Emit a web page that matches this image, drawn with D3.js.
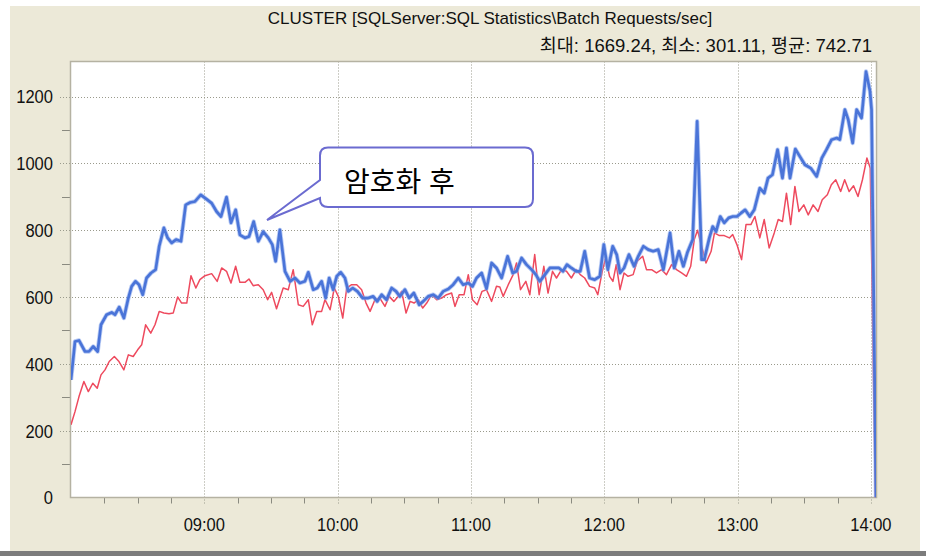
<!DOCTYPE html>
<html>
<head>
<meta charset="utf-8">
<script src="https://cdn.jsdelivr.net/npm/d3@7"></script>
<style>
  body { margin: 0; background: #fff; }
  text { font-family: "Liberation Sans Narrow", "Liberation Sans", "Noto Sans CJK KR", sans-serif; }
</style>
</head>
<body>
<svg id="chart" width="926" height="556"></svg>
<script>
// 시간은 08:00 부터의 분 단위
const blueMin = [0, 1.8, 3.6, 6.3, 8.1, 10, 12, 13.5, 16, 18.3, 19.8, 21.7, 23.8, 25.8, 27.3, 29, 30.6, 32.3, 34, 36, 38.1, 39.7, 41.8, 43.5, 45.3, 47.3, 49.5, 51.6, 53.6, 55.8, 58.4, 61, 63.3, 65.5, 67.5, 70, 72, 74.1, 76, 78.3, 80.1, 82.2, 84.3, 86.5, 88.8, 90.6, 92.1, 94, 96.3, 98.6, 100.8, 103, 105.3, 106.8, 109, 110.8, 112.8, 114.6, 116.2, 118, 119.6, 121.4, 123.3, 124.8, 126.8, 128.9, 131.3, 133.8, 136, 137.8, 139.8, 142, 144.3, 146.3, 148, 150.3, 152.2, 154.3, 156.7, 158.5, 160.8, 163, 165.3, 167.5, 169.8, 172, 174.3, 176.5, 178.8, 180.7, 182.5, 184.8, 187, 189.3, 191.5, 193.8, 196.5, 198.8, 200.5, 202.8, 205, 207.3, 209.2, 211, 213.3, 215.5, 217.8, 219.6, 221.4, 223.2, 225.2, 227.4, 229.2, 231.2, 233.4, 235.7, 238, 239.8, 241.6, 243.8, 245.6, 247.1, 248.9, 251.1, 253.4, 255.3, 257.6, 259.8, 262, 264.3, 266.6, 269.6, 271.5, 273.6, 275.6, 277.5, 279.8, 281.8, 283.8, 285, 287.3, 288.8, 290.3, 292.2, 294, 296, 297.8, 299.7, 301.5, 303.4, 305.5, 307.5, 310, 312, 313.7, 315.7, 318, 320.2, 322, 323.6, 326, 328, 330.3, 332.9, 335.6, 337.9, 340, 342.3, 344.6, 346, 348.3, 349.8, 351.8, 353.6, 355.8, 357.8, 359.6, 360.3, 362.3];
const blueVal = [352, 467, 470, 437, 437, 452, 437, 517, 547, 554, 547, 570, 537, 597, 632, 647, 637, 607, 657, 672, 682, 752, 807, 777, 762, 772, 767, 876, 883, 886, 906, 893, 881, 856, 841, 899, 822, 861, 786, 777, 781, 826, 767, 796, 777, 757, 707, 801, 677, 647, 657, 642, 647, 674, 622, 627, 647, 597, 657, 622, 662, 674, 657, 617, 627, 617, 597, 597, 602, 587, 607, 592, 627, 617, 602, 622, 597, 612, 577, 587, 602, 607, 597, 617, 624, 637, 657, 637, 642, 632, 657, 672, 625, 702, 687, 657, 722, 672, 677, 717, 697, 682, 667, 647, 667, 687, 687, 687, 677, 697, 687, 677, 677, 737, 657, 652, 662, 757, 682, 752, 727, 672, 687, 727, 692, 722, 752, 742, 737, 742, 682, 792, 687, 737, 692, 735, 772, 1126, 712, 712, 777, 811, 796, 841, 822, 837, 841, 841, 851, 861, 841, 861, 926, 911, 956, 966, 1041, 956, 1046, 956, 1043, 1021, 996, 986, 961, 1016, 1041, 1071, 1076, 1071, 1161, 1131, 1061, 1161, 1136, 1275, 1216, 1161, 0];

const redMin = [0, 1.8, 3.6, 5.8, 7.8, 9.8, 11.8, 13.5, 15.3, 17.2, 19.5, 21.6, 23.8, 25.8, 28, 30, 31.8, 33.6, 35.9, 37.8, 39.7, 41.8, 44.1, 46, 48, 49.8, 52.1, 54, 56.2, 58, 60.3, 63.3, 65.8, 67.8, 70, 72, 74.1, 76, 78.3, 80.1, 82, 84.3, 86.5, 88.5, 90.3, 92.5, 95.5, 97.8, 100, 102.3, 104.5, 106.8, 108.6, 110.6, 112.8, 114.3, 116.6, 118.5, 120.3, 122.3, 124.1, 126.3, 128.6, 130.8, 132.8, 134.6, 136.8, 139, 141.3, 143.2, 145.3, 147.3, 148.8, 150.8, 152.6, 154.4, 156.3, 158.3, 160.1, 162.3, 164.6, 166.8, 169, 171.3, 172.8, 174.7, 176.9, 178.8, 180.7, 182.8, 185, 187, 189.3, 191.5, 193, 194.5, 196.8, 199, 200.5, 202.3, 204.7, 206.5, 208.7, 210.7, 212.8, 214.7, 216.7, 218.5, 220.8, 223, 225.2, 227.4, 229.2, 231.2, 233.4, 235.7, 237.1, 239.1, 240.6, 242.4, 243.9, 245.4, 247.1, 248.9, 250.7, 253, 254.8, 257.3, 259, 261.3, 263.5, 265.8, 268, 270.3, 272.5, 274.8, 277, 278.9, 280.5, 282, 283.8, 285.8, 288.1, 289.6, 291.8, 294, 296.3, 297.8, 299.7, 301.8, 303.8, 306, 307.8, 310, 312, 314.2, 316.5, 318.3, 320.2, 322, 323.9, 325.8, 327.6, 329.8, 331.8, 334, 336.2, 338.1, 340.4, 342.2, 344.2, 346.4, 348.2, 350.2, 352.2, 354.2, 356.2, 358.2, 359.7, 362];
const redVal = [218, 257, 302, 347, 317, 342, 327, 367, 382, 407, 422, 407, 382, 427, 422, 442, 457, 517, 492, 517, 557, 552, 550, 552, 600, 582, 582, 664, 627, 652, 664, 670, 647, 687, 677, 642, 692, 644, 644, 654, 634, 637, 622, 592, 614, 565, 627, 622, 682, 577, 572, 592, 517, 557, 557, 592, 562, 627, 602, 537, 627, 637, 637, 622, 582, 557, 592, 597, 572, 602, 587, 602, 617, 552, 587, 582, 592, 567, 582, 607, 592, 597, 607, 612, 572, 607, 607, 667, 592, 577, 617, 622, 587, 632, 630, 602, 637, 667, 702, 622, 647, 607, 727, 607, 692, 612, 677, 657, 682, 677, 657, 682, 667, 657, 632, 627, 607, 677, 717, 662, 647, 697, 622, 672, 662, 667, 707, 722, 682, 682, 672, 682, 667, 697, 682, 672, 662, 692, 772, 800, 752, 702, 737, 792, 784, 784, 777, 787, 757, 712, 817, 817, 841, 777, 832, 747, 792, 832, 826, 911, 817, 931, 856, 876, 846, 876, 856, 891, 906, 936, 951, 916, 951, 916, 933, 901, 951, 1016, 986, 0];

const yTicks = [0, 200, 400, 600, 800, 1000, 1200];
const xTickMin = [60, 120, 180, 240, 300, 360];
const xTickLabels = ["09:00", "10:00", "11:00", "12:00", "13:00", "14:00"];

const titleText = "CLUSTER [SQLServer:SQL Statistics\\Batch Requests/sec]";
const statText = "최대: 1669.24, 최소: 301.11, 평균: 742.71";
const noteText = "암호화 후";

const svg = d3.select("#chart");
const pLeft = 71, pRight = 876, pTop = 61.5, pBottom = 497.5;

// 배경
svg.append("rect").attr("x", 10).attr("y", 6).attr("width", 910).attr("height", 546).attr("fill", "#ECE9D8");
svg.append("rect").attr("x", 0).attr("y", 551).attr("width", 926).attr("height", 5).attr("fill", "#7c7c7c");

const x = d3.scaleLinear().domain([0, 362.3]).range([pLeft, pRight]);
const y = d3.scaleLinear().domain([0, 1305]).range([pBottom, pTop]);

svg.append("rect").attr("x", pLeft).attr("y", pTop).attr("width", pRight - pLeft).attr("height", pBottom - pTop)
  .attr("fill", "#fff");

// 격자
const grid = svg.append("g").attr("stroke", "#9a9a8c").attr("stroke-dasharray", "1,2").attr("stroke-width", 1);
yTicks.filter(d => d > 0).forEach(d => {
  grid.append("line").attr("x1", 60).attr("x2", pRight).attr("y1", Math.round(y(d)) + 0.5).attr("y2", Math.round(y(d)) + 0.5);
});
xTickMin.forEach(d => {
  grid.append("line").attr("x1", Math.round(x(d)) + 0.5).attr("x2", Math.round(x(d)) + 0.5).attr("y1", pTop).attr("y2", pBottom + 8);
});

// 보조 눈금
const ticks = svg.append("g").attr("stroke", "#8a8a80").attr("stroke-width", 1);
d3.range(100, 1300, 200).forEach(d => {
  ticks.append("line").attr("x1", 62).attr("x2", pLeft).attr("y1", Math.round(y(d)) + 0.5).attr("y2", Math.round(y(d)) + 0.5);
});
d3.range(15, 362, 15).filter(d => d % 60 !== 0).forEach(d => {
  ticks.append("line").attr("x1", Math.round(x(d)) + 0.5).attr("x2", Math.round(x(d)) + 0.5).attr("y1", pBottom).attr("y2", pBottom + 6);
});

// 테두리
svg.append("rect").attr("x", pLeft - 0.5).attr("y", pTop).attr("width", pRight - pLeft + 1).attr("height", pBottom - pTop)
  .attr("fill", "none").attr("stroke", "#b5b2a2").attr("stroke-width", 1.5);

// 축 글자 (좁은 글꼴 흉내: 가로 0.87배)
svg.append("g").selectAll("text").data(yTicks).join("text")
  .attr("transform", d => `translate(53,${y(d)}) scale(0.87,1)`).attr("dy", "0.36em")
  .attr("text-anchor", "end").attr("font-size", 19).attr("fill", "#111")
  .text(d => d);
svg.append("g").selectAll("text").data(xTickMin).join("text")
  .attr("transform", d => `translate(${x(d)},524) scale(0.87,1)`).attr("dy", "0.36em")
  .attr("text-anchor", "middle").attr("font-size", 19).attr("fill", "#111")
  .text((d, i) => xTickLabels[i]);

// 제목
svg.append("text").attr("x", 490).attr("y", 24).attr("text-anchor", "middle")
  .attr("font-size", 17).attr("fill", "#111").text(titleText);
svg.append("text").attr("x", 872).attr("y", 52).attr("text-anchor", "end")
  .attr("font-size", 18.5).attr("fill", "#111").text(statText);

// 선
svg.append("clipPath").attr("id", "plot").append("rect")
  .attr("x", pLeft).attr("y", pTop).attr("width", pRight - pLeft).attr("height", pBottom - pTop);
const lines = svg.append("g").attr("clip-path", "url(#plot)");
const redData = redMin.map((m, i) => [m, redVal[i]]);
const blueData = blueMin.map((m, i) => [m, blueVal[i]]);
const line = d3.line().x(d => x(d[0])).y(d => y(d[1]));
lines.append("path").datum(redData).attr("d", line).attr("fill", "none")
  .attr("stroke", "#ee4a5e").attr("stroke-width", 1.5).attr("stroke-linejoin", "round");
lines.append("path").datum(blueData).attr("d", line).attr("fill", "none")
  .attr("stroke", "#8aa8ec").attr("stroke-width", 4.4).attr("stroke-linejoin", "round").attr("opacity", 0.6);
lines.append("path").datum(blueData).attr("d", line).attr("fill", "none")
  .attr("stroke", "#4a74d8").attr("stroke-width", 2.7).attr("stroke-linejoin", "round");

// 말풍선
svg.append("path")
  .attr("d", "M328,147.5 H525 Q533,147.5 533,155.5 V199 Q533,207 525,207 H328 Q320,207 320,199 V198 L267,220 L320,180 V155.5 Q320,147.5 328,147.5 Z")
  .attr("fill", "#fff").attr("stroke", "#6b6bd0").attr("stroke-width", 2);
svg.append("text").attr("x", 344).attr("y", 192)
  .attr("font-family", "'Noto Sans CJK KR', sans-serif").attr("font-size", 28).attr("fill", "#000")
  .text(noteText);
</script>
</body>
</html>
